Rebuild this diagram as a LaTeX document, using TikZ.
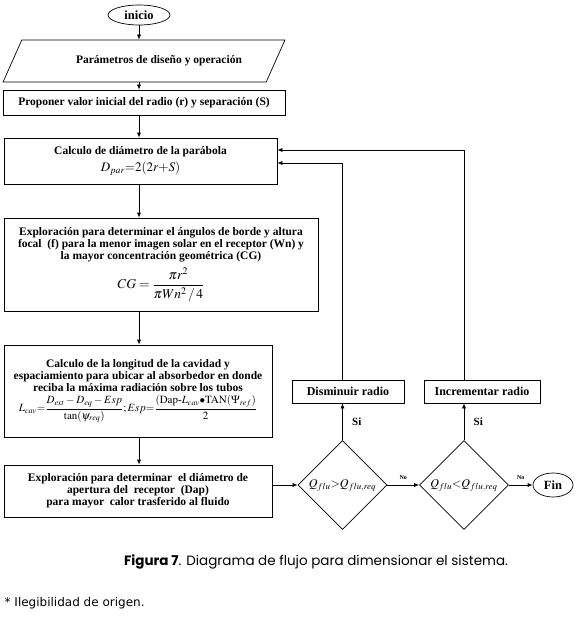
\documentclass[tikz,border=0pt]{standalone}
\usepackage{mathptmx}
\usepackage{fontspec}
\setmainfont{Liberation Serif}
\newfontfamily\capfont{Poppins}
\newfontfamily\notefont{DejaVu Sans}
\usepackage{tikz}
\usetikzlibrary{arrows.meta,positioning,shapes.geometric}

\begin{document}
\begin{tikzpicture}[
  x=1pt, y=-1pt,
  line width=0.7pt,
  box/.style={draw, align=center, inner sep=2pt, font=\fontsize{11.5}{12}\selectfont\bfseries},
  term/.style={draw, ellipse, inner sep=0pt, font=\fontsize{12.5}{14}\selectfont\bfseries},
  decide/.style={draw, diamond, aspect=1, inner sep=0pt, minimum width=89pt, minimum height=89pt},
  arr/.style={-{Latex[length=5pt,width=4pt]}},
  lbl/.style={font=\fontsize{11}{12}\selectfont\bfseries}
]
\useasboundingbox (0,0) rectangle (576,620);

% main column
\node[term, minimum width=62pt, minimum height=20pt] (inicio) at (139,15) {inicio};
\node[draw, trapezium, trapezium left angle=35, trapezium right angle=145, trapezium stretches=true,
  minimum width=282pt, minimum height=42pt, inner sep=0pt, font=\fontsize{11.5}{12}\selectfont\bfseries]
  (param) at (144,61) {\hspace*{30pt}Parámetros de diseño y operación};
\node[box, minimum width=282pt, minimum height=25pt] (prop) at (144,102.5)
  {Proponer valor inicial del radio (r) y separación (S)};
\node[box, minimum width=273pt, minimum height=46pt] (calc) at (140.5,161)
  {Calculo de diámetro de la parábola\\[3pt]
   {\fontsize{13}{14}\selectfont\mdseries$D_{par}{=}2(2r{+}S)$}};
\node[box, minimum width=314pt, minimum height=93pt] (explo) at (161,264.5)
  {Exploración para determinar el ángulos de borde y altura\\
   focal\ \ (f) para la menor imagen solar en el receptor (Wn) y\\
   la mayor concentración geométrica (CG)\\[5pt]
   {\fontsize{13.5}{14}\selectfont\mdseries$\displaystyle CG=\frac{\pi r^{2}}{\pi W n^{2}\,/\,4}$}};
\node[box, minimum width=268pt, minimum height=92pt] (longi) at (138,391)
  {Calculo de la longitud de la cavidad y\\
   espaciamiento para ubicar al absorbedor en donde\\
   reciba la máxima radiación sobre los tubos\\[3pt]
   {\fontsize{11}{12}\selectfont\mdseries$\displaystyle L_{cav}{=}\frac{D_{ext}-D_{eq}-Esp}{\tan(\psi_{req})};Esp{=}\frac{(\mathrm{Dap}\mbox{-}L_{cav}{\bullet}\mathrm{TAN}(\Psi_{ref})}{2}$}};
\node[box, minimum width=268pt, minimum height=52pt] (dap) at (138,491)
  {Exploración para determinar\ \ el diámetro de\\
   apertura del\ \ receptor\ \ (Dap)\\
   para mayor\ \ calor trasferido al fluido};

% decisions
\node[decide] (d1) at (342.5,485) {\fontsize{12}{13}\selectfont$Q_{flu}{>}Q_{flu,req}$};
\node[decide] (d2) at (464,485) {\fontsize{12}{13}\selectfont$Q_{flu}{<}Q_{flu,req}$};
\node[term, minimum width=40pt, minimum height=24pt] (fin) at (553,485) {Fin};
\node[box, minimum width=112pt, minimum height=23pt, font=\fontsize{12}{13}\selectfont\bfseries] (dism) at (348,391.5) {Disminuir radio};
\node[box, minimum width=116pt, minimum height=23pt, font=\fontsize{12}{13}\selectfont\bfseries] (incr) at (482,391.5) {Incrementar radio};

% connectors
\draw[arr] (inicio.south) -- (inicio.south |- param.north);
\draw[arr] (inicio.south |- param.south) -- (inicio.south |- prop.north);
\draw[arr] (inicio.south |- prop.south) -- (inicio.south |- calc.north);
\draw[arr] (inicio.south |- calc.south) -- (inicio.south |- explo.north);
\draw[arr] (inicio.south |- explo.south) -- (inicio.south |- longi.north);
\draw[arr] (inicio.south |- longi.south) -- (inicio.south |- dap.north);
\draw[arr] (d1.west -| dap.east) -- (d1.west);
\draw[arr] (d1.east) -- node[above=2pt, font=\fontsize{6}{7}\selectfont\bfseries]{No} (d2.west);
\draw[arr] (d2.east) -- node[above=2pt, font=\fontsize{6}{7}\selectfont\bfseries]{No} (fin.west);
\draw[arr] (d1.north) -- node[right=6pt, lbl]{Si} (d1.north |- dism.south);
\draw[arr] (d2.north) -- node[right=6pt, lbl]{Si} (d2.north |- incr.south);
\draw[arr] (d1.north |- dism.north) |- ([yshift=-2pt]calc.east);
\draw[arr] (d2.north |- incr.north) |- ([yshift=11pt]calc.east);

% caption
\node[font=\capfont\fontsize{13.5}{15}\selectfont] (cap) at (316,562)
  {\textbf{Figura 7}. Diagrama de flujo para dimensionar el sistema.};
\node[anchor=west, font=\notefont\fontsize{12}{14}\selectfont] (nota) at (1,603)
  {* Ilegibilidad de origen.};
\end{tikzpicture}
\end{document}
